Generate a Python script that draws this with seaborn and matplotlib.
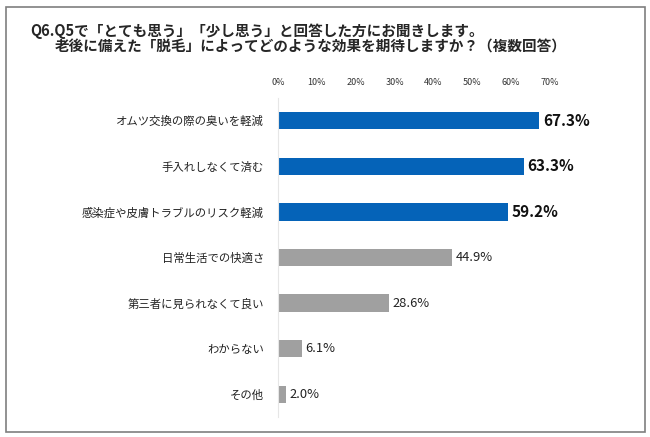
import pandas as pd
import matplotlib.pyplot as plt
import seaborn as sns
from matplotlib.patches import Rectangle

# データ
items = ["オムツ交換の際の臭いを軽減", "手入れしなくて済む", "感染症や皮膚トラブルのリスク軽減",
         "日常生活での快適さ", "第三者に見られなくて良い", "わからない", "その他"]
values = [67.3, 63.3, 59.2, 44.9, 28.6, 6.1, 2.0]
colors = ["#0563B8"] * 3 + ["#A0A0A0"] * 4
ticks = [0, 10, 20, 30, 40, 50, 60, 70]

df = pd.DataFrame({"item": items, "value": values})

sns.set_style("white")
plt.rcParams['font.family'] = ['Noto Sans CJK JP', 'DejaVu Sans']

fig = plt.figure(figsize=(6.5, 4.37), dpi=100)
ax = fig.add_axes([0.4277, 0.0458, 0.448, 0.73])

sns.barplot(data=df, x="value", y="item", hue="item", palette=colors,
            legend=False, width=0.38, orient="h", ax=ax, edgecolor="none",
            saturation=1)

ax.set_xlim(0, 75)
ax.set_ylim(6.5, -0.5)
ax.set_xticks(ticks)
ax.set_xticklabels([f"{t}%" for t in ticks], fontsize=6.5, color="#333333")
ax.xaxis.tick_top()
ax.tick_params(axis="x", length=0, pad=8)
ax.tick_params(axis="y", length=0, pad=10)
ax.set_yticks(range(len(items)))
ax.set_yticklabels(items, fontsize=8.2, color="#222222")
ax.set_xlabel("")
ax.set_ylabel("")
for s in ["top", "right", "bottom"]:
    ax.spines[s].set_visible(False)
ax.spines["left"].set_color("#E6E6E6")
ax.spines["left"].set_linewidth(0.8)

for i, v in enumerate(values):
    if i < 3:
        ax.text(v + 1.0, i, f"{v:.1f}%", va="center", ha="left",
                fontsize=11, fontweight="bold", color="#111111")
    else:
        ax.text(v + 1.0, i, f"{v:.1f}%", va="center", ha="left",
                fontsize=9.3, color="#222222")

fig.text(0.046, 0.93, "Q6.Q5で「とても思う」「少し思う」と回答した方にお聞きします。",
         fontsize=10.5, fontweight="bold", va="center", ha="left")
fig.text(0.085, 0.893, "老後に備えた「脱毛」によってどのような効果を期待しますか？（複数回答）",
         fontsize=10.5, fontweight="bold", va="center", ha="left")

fig.patches.append(Rectangle((0.009, 0.012), 0.983, 0.972, transform=fig.transFigure,
                             fill=False, edgecolor="#7F7F7F", linewidth=1.2))

fig.savefig("out.png", dpi=100)
